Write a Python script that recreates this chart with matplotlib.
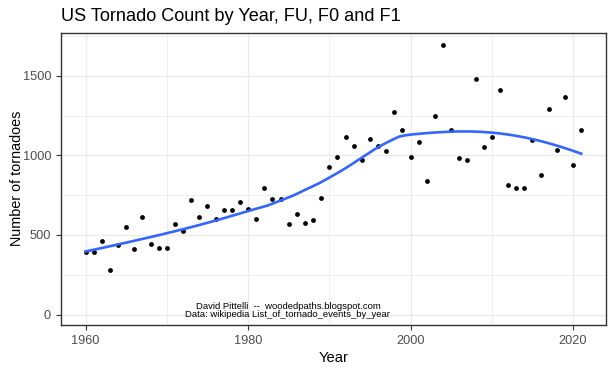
import numpy as np
import matplotlib
matplotlib.use("Agg")
import matplotlib.pyplot as plt

plt.rcParams['font.family'] = ['Liberation Sans', 'DejaVu Sans']

years = list(range(1960, 2022))
counts = [390, 396, 459, 278, 440, 547, 409, 610, 446, 415,
          415, 566, 522, 717, 610, 685, 603, 654, 654, 704,
          666, 603, 798, 723, 723, 566, 629, 578, 597, 735,
          924, 987, 1113, 1056, 968, 1106, 1056, 1025, 1270, 1157,
          993, 1087, 836, 1245, 1691, 1157, 981, 974, 1483, 1050,
          1113, 1414, 817, 798, 792, 1094, 874, 1289, 1037, 1364,
          937, 1157]

title = "US Tornado Count by Year, FU, F0 and F1"
credit = "David Pittelli  --  woodedpaths.blogspot.com\nData: wikipedia List_of_tornado_events_by_year"


# local quadratic regression with tricube weights (like R's loess default)
def loess(x, y, xs, span=0.75):
    x = np.asarray(x, float)
    y = np.asarray(y, float)
    n = len(x)
    q = int(np.floor(n * span))
    out = []
    for x0 in xs:
        d = np.abs(x - x0)
        h = np.sort(d)[q - 1]
        w = np.clip(1 - (d / h) ** 3, 0, None) ** 3
        X = np.column_stack([np.ones(n), x - x0, (x - x0) ** 2])
        W = np.sqrt(w)
        beta = np.linalg.lstsq(X * W[:, None], y * W, rcond=None)[0]
        out.append(beta[0])
    return np.array(out)


xs = np.linspace(min(years), max(years), 80)
ys = loess(years, counts, xs)

fig, ax = plt.subplots(figsize=(6.14, 3.7), dpi=100)
fig.subplots_adjust(left=0.099, right=0.987, top=0.912, bottom=0.122)

ax.scatter(years, counts, s=12, color='black', zorder=3, linewidths=0)
ax.plot(xs, ys, color='#3366FF', lw=1.9, zorder=4)

ax.text(1984.9, -30, credit, ha='center', va='bottom', fontsize=6.8,
        linespacing=0.95, zorder=5)

ax.set_xlim(1956.95, 2024.05)
ax.set_ylim(-65, 1772)
ax.set_xticks([1960, 1980, 2000, 2020])
ax.set_xticks([1970, 1990, 2010], minor=True)
ax.set_yticks([0, 500, 1000, 1500])
ax.set_yticks([250, 750, 1250, 1750], minor=True)

ax.grid(True, which='major', color='#EBEBEB', lw=1.0, zorder=0)
ax.grid(True, which='minor', color='#EBEBEB', lw=0.6, zorder=0)
ax.set_axisbelow(True)
ax.tick_params(which='major', length=3.5, color='#333333', labelsize=9.2,
               labelcolor='#4D4D4D', width=0.8)
ax.tick_params(which='minor', length=0)
for s in ax.spines.values():
    s.set_color('#333333')
    s.set_linewidth(1.0)

ax.set_xlabel("Year", fontsize=10.6, labelpad=3)
ax.set_ylabel("Number of tornadoes", fontsize=10.4, labelpad=-1)
ax.set_title(title, fontsize=13.1, loc='left', x=0.0, pad=8)

fig.savefig("out.png", dpi=100)
